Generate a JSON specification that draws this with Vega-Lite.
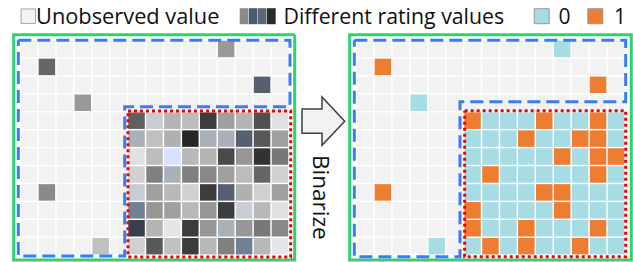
{
"$schema": "https://vega.github.io/schema/vega-lite/v6.json",
"width": 633, "height": 262, "autosize": "none", "padding": 0,
"background": "white",
"config": {"view": {"stroke": null}},
"datasets": {
"cells": [
{"r":0,"c":0,"g":0,"b":"n"},{"r":0,"c":1,"g":0,"b":"n"},{"r":0,"c":2,"g":0,"b":"n"},{"r":0,"c":3,"g":0,"b":"n"},{"r":0,"c":4,"g":0,"b":"n"},{"r":0,"c":5,"g":0,"b":"n"},{"r":0,"c":6,"g":0,"b":"n"},{"r":0,"c":7,"g":0,"b":"n"},{"r":0,"c":8,"g":0,"b":"n"},{"r":0,"c":9,"g":0,"b":"n"},{"r":0,"c":10,"g":0,"b":"n"},{"r":0,"c":11,"g":17,"b":"0"},{"r":0,"c":12,"g":0,"b":"n"},{"r":0,"c":13,"g":0,"b":"n"},{"r":0,"c":14,"g":0,"b":"n"},
{"r":1,"c":0,"g":0,"b":"n"},{"r":1,"c":1,"g":10,"b":"1"},{"r":1,"c":2,"g":0,"b":"n"},{"r":1,"c":3,"g":0,"b":"n"},{"r":1,"c":4,"g":0,"b":"n"},{"r":1,"c":5,"g":0,"b":"n"},{"r":1,"c":6,"g":0,"b":"n"},{"r":1,"c":7,"g":0,"b":"n"},{"r":1,"c":8,"g":0,"b":"n"},{"r":1,"c":9,"g":0,"b":"n"},{"r":1,"c":10,"g":0,"b":"n"},{"r":1,"c":11,"g":0,"b":"n"},{"r":1,"c":12,"g":0,"b":"n"},{"r":1,"c":13,"g":0,"b":"n"},{"r":1,"c":14,"g":0,"b":"n"},
{"r":2,"c":0,"g":0,"b":"n"},{"r":2,"c":1,"g":0,"b":"n"},{"r":2,"c":2,"g":0,"b":"n"},{"r":2,"c":3,"g":0,"b":"n"},{"r":2,"c":4,"g":0,"b":"n"},{"r":2,"c":5,"g":0,"b":"n"},{"r":2,"c":6,"g":0,"b":"n"},{"r":2,"c":7,"g":0,"b":"n"},{"r":2,"c":8,"g":0,"b":"n"},{"r":2,"c":9,"g":0,"b":"n"},{"r":2,"c":10,"g":0,"b":"n"},{"r":2,"c":11,"g":0,"b":"n"},{"r":2,"c":12,"g":0,"b":"n"},{"r":2,"c":13,"g":7,"b":"1"},{"r":2,"c":14,"g":0,"b":"n"},
{"r":3,"c":0,"g":0,"b":"n"},{"r":3,"c":1,"g":0,"b":"n"},{"r":3,"c":2,"g":0,"b":"n"},{"r":3,"c":3,"g":17,"b":"0"},{"r":3,"c":4,"g":0,"b":"n"},{"r":3,"c":5,"g":0,"b":"n"},{"r":3,"c":6,"g":0,"b":"n"},{"r":3,"c":7,"g":0,"b":"n"},{"r":3,"c":8,"g":0,"b":"n"},{"r":3,"c":9,"g":0,"b":"n"},{"r":3,"c":10,"g":0,"b":"n"},{"r":3,"c":11,"g":0,"b":"n"},{"r":3,"c":12,"g":0,"b":"n"},{"r":3,"c":13,"g":0,"b":"n"},{"r":3,"c":14,"g":0,"b":"n"},
{"r":4,"c":0,"g":0,"b":"n"},{"r":4,"c":1,"g":0,"b":"n"},{"r":4,"c":2,"g":0,"b":"n"},{"r":4,"c":3,"g":0,"b":"n"},{"r":4,"c":4,"g":0,"b":"n"},{"r":4,"c":5,"g":0,"b":"n"},{"r":4,"c":6,"g":9,"b":"1"},{"r":4,"c":7,"g":25,"b":"0"},{"r":4,"c":8,"g":21,"b":"0"},{"r":4,"c":9,"g":23,"b":"0"},{"r":4,"c":10,"g":4,"b":"1"},{"r":4,"c":11,"g":18,"b":"0"},{"r":4,"c":12,"g":21,"b":"0"},{"r":4,"c":13,"g":6,"b":"1"},{"r":4,"c":14,"g":28,"b":"0"},
{"r":5,"c":0,"g":0,"b":"n"},{"r":5,"c":1,"g":0,"b":"n"},{"r":5,"c":2,"g":0,"b":"n"},{"r":5,"c":3,"g":0,"b":"n"},{"r":5,"c":4,"g":0,"b":"n"},{"r":5,"c":5,"g":0,"b":"n"},{"r":5,"c":6,"g":19,"b":"0"},{"r":5,"c":7,"g":24,"b":"0"},{"r":5,"c":8,"g":20,"b":"0"},{"r":5,"c":9,"g":1,"b":"1"},{"r":5,"c":10,"g":19,"b":"0"},{"r":5,"c":11,"g":19,"b":"0"},{"r":5,"c":12,"g":7,"b":"1"},{"r":5,"c":13,"g":8,"b":"1"},{"r":5,"c":14,"g":18,"b":"0"},
{"r":6,"c":0,"g":0,"b":"n"},{"r":6,"c":1,"g":0,"b":"n"},{"r":6,"c":2,"g":0,"b":"n"},{"r":6,"c":3,"g":0,"b":"n"},{"r":6,"c":4,"g":0,"b":"n"},{"r":6,"c":5,"g":0,"b":"n"},{"r":6,"c":6,"g":28,"b":"0"},{"r":6,"c":7,"g":23,"b":"0"},{"r":6,"c":8,"g":27,"b":"0"},{"r":6,"c":9,"g":22,"b":"0"},{"r":6,"c":10,"g":21,"b":"0"},{"r":6,"c":11,"g":5,"b":"1"},{"r":6,"c":12,"g":16,"b":"0"},{"r":6,"c":13,"g":2,"b":"1"},{"r":6,"c":14,"g":12,"b":"1"},
{"r":7,"c":0,"g":0,"b":"n"},{"r":7,"c":1,"g":0,"b":"n"},{"r":7,"c":2,"g":0,"b":"n"},{"r":7,"c":3,"g":0,"b":"n"},{"r":7,"c":4,"g":0,"b":"n"},{"r":7,"c":5,"g":0,"b":"n"},{"r":7,"c":6,"g":26,"b":"0"},{"r":7,"c":7,"g":13,"b":"1"},{"r":7,"c":8,"g":19,"b":"0"},{"r":7,"c":9,"g":13,"b":"0"},{"r":7,"c":10,"g":14,"b":"0"},{"r":7,"c":11,"g":18,"b":"0"},{"r":7,"c":12,"g":23,"b":"0"},{"r":7,"c":13,"g":10,"b":"1"},{"r":7,"c":14,"g":26,"b":"0"},
{"r":8,"c":0,"g":0,"b":"n"},{"r":8,"c":1,"g":15,"b":"1"},{"r":8,"c":2,"g":0,"b":"n"},{"r":8,"c":3,"g":0,"b":"n"},{"r":8,"c":4,"g":0,"b":"n"},{"r":8,"c":5,"g":0,"b":"n"},{"r":8,"c":6,"g":25,"b":"0"},{"r":8,"c":7,"g":18,"b":"0"},{"r":8,"c":8,"g":22,"b":"0"},{"r":8,"c":9,"g":26,"b":"0"},{"r":8,"c":10,"g":4,"b":"1"},{"r":8,"c":11,"g":7,"b":"1"},{"r":8,"c":12,"g":20,"b":"0"},{"r":8,"c":13,"g":26,"b":"0"},{"r":8,"c":14,"g":18,"b":"0"},
{"r":9,"c":0,"g":0,"b":"n"},{"r":9,"c":1,"g":0,"b":"n"},{"r":9,"c":2,"g":0,"b":"n"},{"r":9,"c":3,"g":0,"b":"n"},{"r":9,"c":4,"g":0,"b":"n"},{"r":9,"c":5,"g":0,"b":"n"},{"r":9,"c":6,"g":11,"b":"1"},{"r":9,"c":7,"g":16,"b":"0"},{"r":9,"c":8,"g":18,"b":"0"},{"r":9,"c":9,"g":22,"b":"0"},{"r":9,"c":10,"g":16,"b":"0"},{"r":9,"c":11,"g":4,"b":"1"},{"r":9,"c":12,"g":25,"b":"0"},{"r":9,"c":13,"g":22,"b":"0"},{"r":9,"c":14,"g":28,"b":"0"},
{"r":10,"c":0,"g":0,"b":"n"},{"r":10,"c":1,"g":0,"b":"n"},{"r":10,"c":2,"g":0,"b":"n"},{"r":10,"c":3,"g":0,"b":"n"},{"r":10,"c":4,"g":0,"b":"n"},{"r":10,"c":5,"g":0,"b":"n"},{"r":10,"c":6,"g":3,"b":"1"},{"r":10,"c":7,"g":21,"b":"0"},{"r":10,"c":8,"g":29,"b":"0"},{"r":10,"c":9,"g":4,"b":"1"},{"r":10,"c":10,"g":16,"b":"0"},{"r":10,"c":11,"g":19,"b":"0"},{"r":10,"c":12,"g":16,"b":"0"},{"r":10,"c":13,"g":12,"b":"1"},{"r":10,"c":14,"g":14,"b":"0"},
{"r":11,"c":0,"g":0,"b":"n"},{"r":11,"c":1,"g":0,"b":"n"},{"r":11,"c":2,"g":0,"b":"n"},{"r":11,"c":3,"g":0,"b":"n"},{"r":11,"c":4,"g":24,"b":"0"},{"r":11,"c":5,"g":0,"b":"n"},{"r":11,"c":6,"g":26,"b":"0"},{"r":11,"c":7,"g":8,"b":"1"},{"r":11,"c":8,"g":24,"b":"0"},{"r":11,"c":9,"g":4,"b":"1"},{"r":11,"c":10,"g":22,"b":"0"},{"r":11,"c":11,"g":13,"b":"0"},{"r":11,"c":12,"g":11,"b":"1"},{"r":11,"c":13,"g":22,"b":"0"},{"r":11,"c":14,"g":30,"b":"0"}
],
"outlines": [
{"panel":"L","kind":"matrix","i":0,"x":-0.852,"y":-0.796},{"panel":"L","kind":"matrix","i":1,"x":14.82,"y":-0.796},{"panel":"L","kind":"matrix","i":2,"x":14.82,"y":11.776},{"panel":"L","kind":"matrix","i":3,"x":-0.852,"y":11.776},{"panel":"L","kind":"matrix","i":4,"x":-0.852,"y":-0.796},{"panel":"L","kind":"matrix","i":5,"x":0.5,"y":-0.796},
{"panel":"L","kind":"sparse","i":0,"x":-0.595,"y":-0.48},{"panel":"L","kind":"sparse","i":1,"x":14.557,"y":-0.48},{"panel":"L","kind":"sparse","i":2,"x":14.557,"y":3.22},{"panel":"L","kind":"sparse","i":3,"x":5.34,"y":3.22},{"panel":"L","kind":"sparse","i":4,"x":5.34,"y":11.546},{"panel":"L","kind":"sparse","i":5,"x":-0.595,"y":11.546},{"panel":"L","kind":"sparse","i":6,"x":-0.595,"y":-0.48},
{"panel":"L","kind":"dense","i":0,"x":5.524,"y":3.46},{"panel":"L","kind":"dense","i":1,"x":14.597,"y":3.46},{"panel":"L","kind":"dense","i":2,"x":14.597,"y":11.6},{"panel":"L","kind":"dense","i":3,"x":5.524,"y":11.6},{"panel":"L","kind":"dense","i":4,"x":5.524,"y":3.46},
{"panel":"R","kind":"matrix","i":0,"x":-0.852,"y":-0.796},{"panel":"R","kind":"matrix","i":1,"x":14.854,"y":-0.796},{"panel":"R","kind":"matrix","i":2,"x":14.854,"y":11.776},{"panel":"R","kind":"matrix","i":3,"x":-0.852,"y":11.776},{"panel":"R","kind":"matrix","i":4,"x":-0.852,"y":-0.796},{"panel":"R","kind":"matrix","i":5,"x":0.5,"y":-0.796},
{"panel":"R","kind":"sparse","i":0,"x":-0.595,"y":-0.48},{"panel":"R","kind":"sparse","i":1,"x":14.54,"y":-0.48},{"panel":"R","kind":"sparse","i":2,"x":14.54,"y":2.94},{"panel":"R","kind":"sparse","i":3,"x":5.3,"y":2.94},{"panel":"R","kind":"sparse","i":4,"x":5.3,"y":11.585},{"panel":"R","kind":"sparse","i":5,"x":-0.595,"y":11.585},{"panel":"R","kind":"sparse","i":6,"x":-0.595,"y":-0.48},
{"panel":"R","kind":"dense","i":0,"x":5.56,"y":3.44},{"panel":"R","kind":"dense","i":1,"x":14.54,"y":3.44},{"panel":"R","kind":"dense","i":2,"x":14.54,"y":11.585},{"panel":"R","kind":"dense","i":3,"x":5.56,"y":11.585},{"panel":"R","kind":"dense","i":4,"x":5.56,"y":3.44}
],
"levels": [{"k":1},{"k":2},{"k":3},{"k":4}]
},
"resolve": {"scale": {"x": "independent", "color": "independent", "strokeDash": "independent"}},
"layer": [
{"data": {"name": "cells"},
 "mark": {"type": "square", "size": 272, "opacity": 1, "filled": true, "strokeWidth": 0},
 "encoding": {
  "x": {"field": "c", "type": "quantitative", "scale": {"domain": [-1.6157, 33.6882], "nice": false, "zero": false}, "axis": null},
  "y": {"field": "r", "type": "quantitative", "scale": {"domain": [-2.7312, 11.8812], "reverse": true, "nice": false, "zero": false}, "axis": null},
  "color": {"field": "g", "type": "ordinal", "legend": null, "scale": {"domain": [0,1,2,3,4,5,6,7,8,9,10,11,12,13,14,15,16,17,18,19,20,21,22,23,24,25,26,27,28,29,30],
   "range": ["#f2f2f2","#262626","#323232","#383e4a","#3c3c3c","#4a4a4a","#505050","#566070","#585858","#606060","#666666","#728096","#787878","#808080","#888888","#8a8a8a","#969696","#999999","#a0a0a0","#aab0b8","#b0b0b0","#b4b4b4","#b8b8b8","#bcbcbc","#c0c0c0","#c8ccd4","#d0d0d0","#d8e2ff","#e0e0e0","#e6e6e6","#e6e6ea"]}}
 }},
{"data": {"name": "cells"},
 "mark": {"type": "square", "size": 272, "opacity": 1, "filled": true, "strokeWidth": 0},
 "encoding": {
  "x": {"field": "c", "type": "quantitative", "scale": {"domain": [-20.3553, 14.9487], "nice": false, "zero": false}, "axis": null},
  "y": {"field": "r", "type": "quantitative", "scale": {"domain": [-2.7312, 11.8812], "reverse": true, "nice": false, "zero": false}, "axis": null},
  "color": {"field": "b", "type": "nominal", "legend": null, "scale": {"domain": ["n","0","1"], "range": ["#f2f2f2","#a8dce4","#ed7d31"]}}
 }},
{"data": {"name": "outlines"},
 "transform": [{"filter": "datum.panel === 'L'"}],
 "mark": {"type": "line", "strokeWidth": 3, "strokeCap": "butt", "strokeJoin": "miter", "opacity": 1},
 "encoding": {
  "x": {"field": "x", "type": "quantitative", "scale": {"domain": [-1.6157, 33.6882], "nice": false, "zero": false}, "axis": null},
  "y": {"field": "y", "type": "quantitative", "scale": {"domain": [-2.7312, 11.8812], "reverse": true, "nice": false, "zero": false}, "axis": null},
  "order": {"field": "i", "type": "quantitative"},
  "color": {"field": "kind", "type": "nominal", "legend": null, "scale": {"domain": ["matrix","sparse","dense"], "range": ["#2dd36f","#3b7cf4","#f00000"]}},
  "strokeDash": {"field": "kind", "type": "nominal", "legend": null, "scale": {"domain": ["matrix","sparse","dense"], "range": [[1,0],[13,6],[3,3]]}}
 }},
{"data": {"name": "outlines"},
 "transform": [{"filter": "datum.panel === 'R'"}],
 "mark": {"type": "line", "strokeWidth": 3, "strokeCap": "butt", "strokeJoin": "miter", "opacity": 1},
 "encoding": {
  "x": {"field": "x", "type": "quantitative", "scale": {"domain": [-20.3553, 14.9487], "nice": false, "zero": false}, "axis": null},
  "y": {"field": "y", "type": "quantitative", "scale": {"domain": [-2.7312, 11.8812], "reverse": true, "nice": false, "zero": false}, "axis": null},
  "order": {"field": "i", "type": "quantitative"},
  "color": {"field": "kind", "type": "nominal", "legend": null, "scale": {"domain": ["matrix","sparse","dense"], "range": ["#2dd36f","#3b7cf4","#f00000"]}},
  "strokeDash": {"field": "kind", "type": "nominal", "legend": null, "scale": {"domain": ["matrix","sparse","dense"], "range": [[1,0],[13,6],[3,3]]}}
 }},
{"data": {"values": [{}]},
 "mark": {"type": "point", "shape": "M-0.884,-0.5L-0.056,-0.5L-0.056,-1L0.884,0L-0.056,1L-0.056,0.5L-0.884,0.5Z", "size": 2333, "filled": true, "fill": "#f2f2f2", "stroke": "#404040", "strokeWidth": 1.5, "opacity": 1},
 "encoding": {
  "x": {"datum": 16.418, "type": "quantitative", "scale": {"domain": [-1.6157, 33.6882], "nice": false, "zero": false}, "axis": null},
  "y": {"datum": 4.026, "type": "quantitative", "scale": {"domain": [-2.7312, 11.8812], "reverse": true, "nice": false, "zero": false}, "axis": null}
 }},
{"data": {"values": [{"t": "Binarize"}]},
 "mark": {"type": "text", "angle": 90, "align": "center", "baseline": "alphabetic", "font": "Open Sans", "fontSize": 22.5, "fill": "#111111"},
 "encoding": {
  "text": {"field": "t"},
  "x": {"datum": 15.841, "type": "quantitative", "scale": {"domain": [-1.6157, 33.6882], "nice": false, "zero": false}, "axis": null},
  "y": {"datum": 8.273, "type": "quantitative", "scale": {"domain": [-2.7312, 11.8812], "reverse": true, "nice": false, "zero": false}, "axis": null}
 }},
{"data": {"values": [{}]},
 "mark": {"type": "square", "size": 210, "filled": true, "fill": "#f2f2f2", "stroke": "#a6a6a6", "strokeWidth": 1, "opacity": 1},
 "encoding": {
  "x": {"datum": -0.037, "type": "quantitative", "scale": {"domain": [-1.6157, 33.6882], "nice": false, "zero": false}, "axis": null},
  "y": {"datum": -1.8277, "type": "quantitative", "scale": {"domain": [-2.7312, 11.8812], "reverse": true, "nice": false, "zero": false}, "axis": null}
 }},
{"data": {"name": "levels"},
 "mark": {"type": "point", "shape": "M-0.54,-1H0.54V1H-0.54Z", "size": 256, "filled": true, "opacity": 1, "strokeWidth": 0},
 "encoding": {
  "x": {"field": "k", "type": "quantitative", "scale": {"domain": [-25.763, 43.667], "nice": false, "zero": false}, "axis": null},
  "y": {"datum": -1.8277, "type": "quantitative", "scale": {"domain": [-2.7312, 11.8812], "reverse": true, "nice": false, "zero": false}, "axis": null},
  "color": {"field": "k", "type": "ordinal", "legend": null, "scale": {"domain": [1,2,3,4], "range": ["#8a8a8a","#4e5a6e","#5c6676","#2a2a2a"]}}
 }},
{"data": {"values": [{}]},
 "mark": {"type": "square", "size": 225, "filled": true, "fill": "#a8dce4", "stroke": "#999999", "strokeWidth": 1, "opacity": 1},
 "encoding": {
  "x": {"datum": 28.596, "type": "quantitative", "scale": {"domain": [-1.6157, 33.6882], "nice": false, "zero": false}, "axis": null},
  "y": {"datum": -1.8277, "type": "quantitative", "scale": {"domain": [-2.7312, 11.8812], "reverse": true, "nice": false, "zero": false}, "axis": null}
 }},
{"data": {"values": [{}]},
 "mark": {"type": "square", "size": 225, "filled": true, "fill": "#ed7d31", "stroke": "#999999", "strokeWidth": 1, "opacity": 1},
 "encoding": {
  "x": {"datum": 31.586, "type": "quantitative", "scale": {"domain": [-1.6157, 33.6882], "nice": false, "zero": false}, "axis": null},
  "y": {"datum": -1.8277, "type": "quantitative", "scale": {"domain": [-2.7312, 11.8812], "reverse": true, "nice": false, "zero": false}, "axis": null}
 }},
{"data": {"values": [{"t": "Unobserved value"}]},
 "mark": {"type": "text", "align": "left", "baseline": "alphabetic", "font": "Open Sans", "fontSize": 21.8, "fill": "#111111"},
 "encoding": {
  "text": {"field": "t"},
  "x": {"datum": 0.392, "type": "quantitative", "scale": {"domain": [-1.6157, 33.6882], "nice": false, "zero": false}, "axis": null},
  "y": {"datum": -1.393, "type": "quantitative", "scale": {"domain": [-2.7312, 11.8812], "reverse": true, "nice": false, "zero": false}, "axis": null}
 }},
{"data": {"values": [{"t": "Different rating values"}]},
 "mark": {"type": "text", "align": "left", "baseline": "alphabetic", "font": "Open Sans", "fontSize": 21.3, "fill": "#111111"},
 "encoding": {
  "text": {"field": "t"},
  "x": {"datum": 14.196, "type": "quantitative", "scale": {"domain": [-1.6157, 33.6882], "nice": false, "zero": false}, "axis": null},
  "y": {"datum": -1.393, "type": "quantitative", "scale": {"domain": [-2.7312, 11.8812], "reverse": true, "nice": false, "zero": false}, "axis": null}
 }},
{"data": {"values": [{"t": "0"}]},
 "mark": {"type": "text", "align": "left", "baseline": "alphabetic", "font": "Open Sans", "fontSize": 21, "fill": "#111111"},
 "encoding": {
  "text": {"field": "t"},
  "x": {"datum": 29.533, "type": "quantitative", "scale": {"domain": [-1.6157, 33.6882], "nice": false, "zero": false}, "axis": null},
  "y": {"datum": -1.393, "type": "quantitative", "scale": {"domain": [-2.7312, 11.8812], "reverse": true, "nice": false, "zero": false}, "axis": null}
 }},
{"data": {"values": [{"t": "1"}]},
 "mark": {"type": "text", "align": "left", "baseline": "alphabetic", "font": "Open Sans", "fontSize": 21, "fill": "#111111"},
 "encoding": {
  "text": {"field": "t"},
  "x": {"datum": 32.63, "type": "quantitative", "scale": {"domain": [-1.6157, 33.6882], "nice": false, "zero": false}, "axis": null},
  "y": {"datum": -1.393, "type": "quantitative", "scale": {"domain": [-2.7312, 11.8812], "reverse": true, "nice": false, "zero": false}, "axis": null}
 }}
]
}
